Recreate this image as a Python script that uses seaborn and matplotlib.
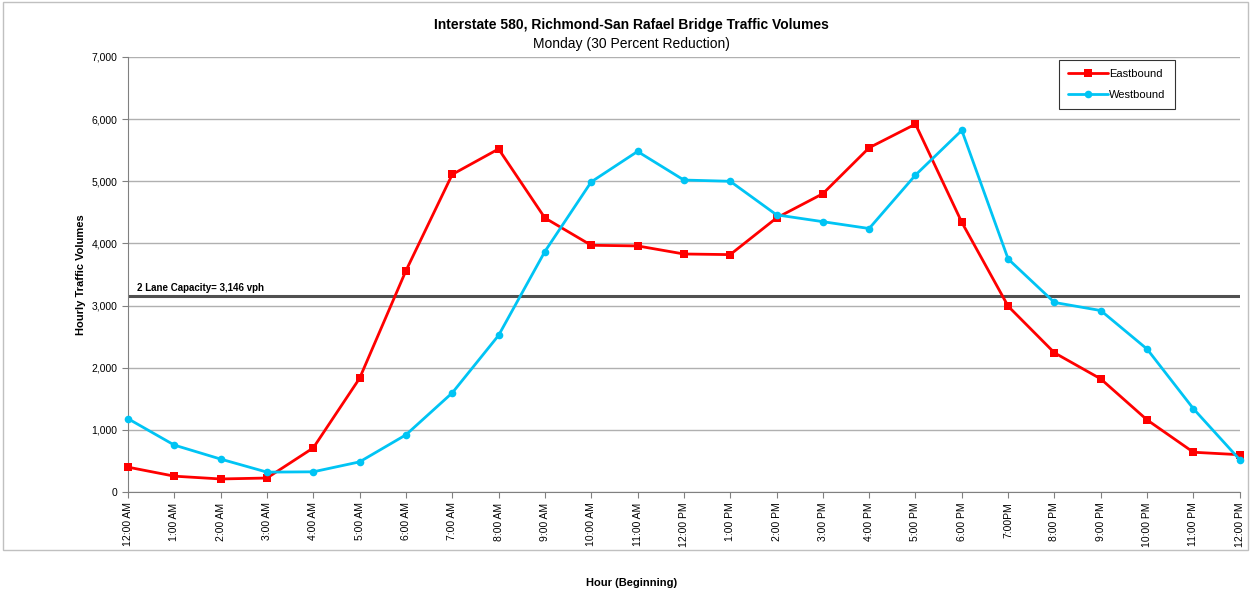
import matplotlib
matplotlib.use("Agg")
import matplotlib.pyplot as plt
import pandas as pd
import seaborn as sns
from matplotlib.patches import Rectangle
from matplotlib.ticker import FuncFormatter, MultipleLocator

hours = [
    "12:00 AM", "1:00 AM", "2:00 AM", "3:00 AM", "4:00 AM", "5:00 AM", "6:00 AM",
    "7:00 AM", "8:00 AM", "9:00 AM", "10:00 AM", "11:00 AM", "12:00 PM", "1:00 PM",
    "2:00 PM", "3:00 PM", "4:00 PM", "5:00 PM", "6:00 PM", "7:00PM", "8:00 PM",
    "9:00 PM", "10:00 PM", "11:00 PM", "12:00 PM",
]
eastbound = [400, 255, 210, 225, 710, 1830, 3560, 5110, 5520, 4410, 3970, 3960,
             3830, 3820, 4410, 4800, 5540, 5920, 4340, 2990, 2240, 1820, 1160, 640, 600]
westbound = [1180, 755, 530, 320, 325, 485, 920, 1595, 2520, 3870, 4990, 5480,
             5020, 5000, 4460, 4350, 4240, 5100, 5820, 3750, 3050, 2920, 2300, 1340, 520]
capacity = 3146

df = pd.DataFrame({
    "pos": list(range(len(hours))) * 2,
    "volume": eastbound + westbound,
    "direction": ["Eastbound"] * len(hours) + ["Westbound"] * len(hours),
})

sns.set_style("white")
plt.rcParams["font.family"] = ["Liberation Sans", "DejaVu Sans"]
plt.rcParams.update({"text.color": "black", "axes.labelcolor": "black",
                     "xtick.color": "black", "ytick.color": "black"})

fig = plt.figure(figsize=(12.51, 5.93), dpi=100)
ax = fig.add_axes([0.1023, 0.1703, 0.8887, 0.7336])

ax.yaxis.grid(True, color="#b0b0b0", linewidth=1)
ax.set_axisbelow(True)

ax.axhline(capacity, color="#505050", linewidth=2.2, zorder=2)
ax.text(0.2, capacity + 60, f"2 Lane Capacity= {capacity:,} vph",
        fontsize=7, fontweight="bold", ha="left", va="bottom")

sns.lineplot(data=df, x="pos", y="volume", hue="direction", style="direction",
             palette={"Eastbound": "#ff0000", "Westbound": "#00c4f4"},
             markers={"Eastbound": "s", "Westbound": "o"}, dashes=False,
             linewidth=2, markersize=5.5, markeredgewidth=0, ax=ax,
             clip_on=False, zorder=3)

ax.set_xlim(0, len(hours) - 1)
ax.set_ylim(0, 7000)
ax.set_xticks(range(len(hours)))
ax.set_xticklabels(hours, rotation=90, fontsize=7.5)
ax.yaxis.set_major_locator(MultipleLocator(1000))
ax.yaxis.set_major_formatter(FuncFormatter(lambda v, p: f"{int(v):,}"))
ax.tick_params(axis="y", labelsize=7.5, length=4, color="#808080", direction="out", left=True)
ax.tick_params(axis="x", length=4, color="#808080", direction="out", bottom=True)
for side in ["top", "right"]:
    ax.spines[side].set_visible(False)
for side in ["left", "bottom"]:
    ax.spines[side].set_color("#808080")
ax.set_xlabel("")
ax.set_ylabel("Hourly Traffic Volumes", fontsize=8, fontweight="bold", labelpad=4)

leg = ax.legend(loc="upper right", bbox_to_anchor=(0.9415, 0.993), fontsize=8,
                frameon=True, fancybox=False, edgecolor="black", handlelength=3.6,
                borderpad=0.8, labelspacing=1.0, handletextpad=0.1, borderaxespad=0)
leg.get_frame().set_linewidth(0.8)

fig.text(0.505, 0.958, "Interstate 580, Richmond-San Rafael Bridge Traffic Volumes",
         ha="center", va="center", fontsize=10, fontweight="bold")
fig.text(0.505, 0.926, "Monday (30 Percent Reduction)", ha="center", va="center", fontsize=10)
fig.text(0.505, 0.017, "Hour (Beginning)", ha="center", va="center", fontsize=8, fontweight="bold")

fig.patches.append(Rectangle((0.002, 0.073), 0.996, 0.923, transform=fig.transFigure,
                             fill=False, edgecolor="#c0c0c0", linewidth=1))

fig.savefig("out.png", dpi=100)
